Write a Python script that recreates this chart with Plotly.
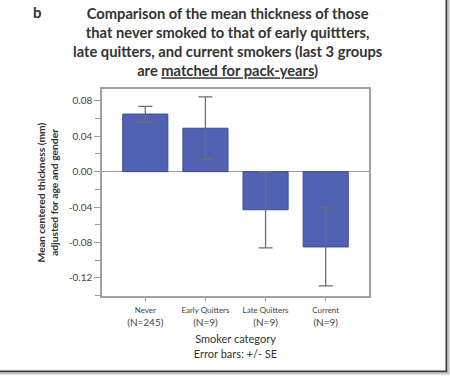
import plotly.graph_objects as go

categories = ["Never", "Early Quitters", "Late Quitters", "Current"]
group_n = [245, 9, 9, 9]
mean_thickness = [0.065, 0.049, -0.043, -0.085]
se = [0.0087, 0.0353, 0.043, 0.044]
y_tick_vals = [0.08, 0.04, 0.0, -0.04, -0.08, -0.12]
y_tick_text = ["0.08", "0.04", "0.00", "-0.04", "-0.08", "-0.12"]

x_idx = list(range(len(categories)))
tick_text = [f"<span style='font-size:8px'>{c}</span><br>(N={n})" for c, n in zip(categories, group_n)]

FONT = "Lato"

fig = go.Figure()
fig.add_trace(go.Bar(
    x=x_idx, y=mean_thickness, width=0.75,
    marker=dict(color="#5262b3", line=dict(color="#3c4897", width=1)),
    error_y=dict(type="data", array=se, visible=True, color="#6e6e6e", thickness=1.3, width=7),
    showlegend=False,
))

W, H = 450, 376
L, R, T, B = 102, 81, 89, 80
pw, ph = W - L - R, H - T - B

def px(x):
    return (x - L) / pw

def py(y):
    return 1 - (y - T) / ph

fig.update_layout(
    width=W, height=H,
    margin=dict(l=L, r=R, t=T, b=B),
    paper_bgcolor="white", plot_bgcolor="white",
    font=dict(family=FONT, color="#333"),
    bargap=0.25,
    xaxis=dict(
        range=[-0.72, 3.72], tickmode="array", tickvals=x_idx, ticktext=tick_text,
        tickfont=dict(size=10, color="#444"), ticks="outside", ticklen=3, tickcolor="#999",
        showline=True, linecolor="#a0a0a0", linewidth=1.5, mirror=True, showgrid=False, zeroline=False,
        title=dict(text="Smoker category<br>Error bars: +/- SE", font=dict(size=11, color="#333"), standoff=9),
    ),
    yaxis=dict(
        range=[-0.1404, 0.0933], tickmode="array", tickvals=y_tick_vals, ticktext=y_tick_text,
        tickfont=dict(size=10, color="#444"), ticks="outside", ticklen=6, tickcolor="#999",
        minor=dict(dtick=0.02, tick0=0, ticks="outside", ticklen=5, tickcolor="#999"),
        showline=True, linecolor="#a0a0a0", linewidth=1.5, mirror=True, showgrid=False,
        zeroline=True, zerolinecolor="#999", zerolinewidth=1,
        title=dict(text="<b>Mean centered thickness (mm)<br>adjusted for age and gender</b>",
                   font=dict(size=10.3, color="#333"), standoff=8),
    ),
    annotations=[
        dict(xref="paper", yref="paper", x=px(227.5), y=py(42), xanchor="center", yanchor="middle",
             text="<b>Comparison of the mean thickness of those<br>that never smoked to that of early quittters,<br>"
                  "late quitters, and current smokers (last 3 groups<br>are <u>matched for pack-years</u>)</b>",
             showarrow=False, font=dict(size=14.7, color="#333"), align="center"),
        dict(xref="paper", yref="paper", x=px(37), y=py(12), xanchor="center", yanchor="middle",
             text="<b>b</b>", showarrow=False, font=dict(size=15, color="#333")),
    ],
    shapes=[
        dict(type="line", xref="paper", yref="paper", x0=px(446.5), x1=px(446.5), y0=py(0), y1=py(372),
             line=dict(color="#3a3a3a", width=2)),
        dict(type="line", xref="paper", yref="paper", x0=px(0), x1=px(447.5), y0=py(371.5), y1=py(371.5),
             line=dict(color="#3a3a3a", width=2)),
        dict(type="line", xref="paper", yref="paper", x0=px(448.5), x1=px(448.5), y0=py(0), y1=py(374),
             line=dict(color="#c4c4c4", width=2)),
        dict(type="line", xref="paper", yref="paper", x0=px(0), x1=px(449.5), y0=py(373.5), y1=py(373.5),
             line=dict(color="#c4c4c4", width=2)),
    ],
)

fig.write_html("out.html", config={"displayModeBar": False},
               post_script="document.body.style.margin='0';")
